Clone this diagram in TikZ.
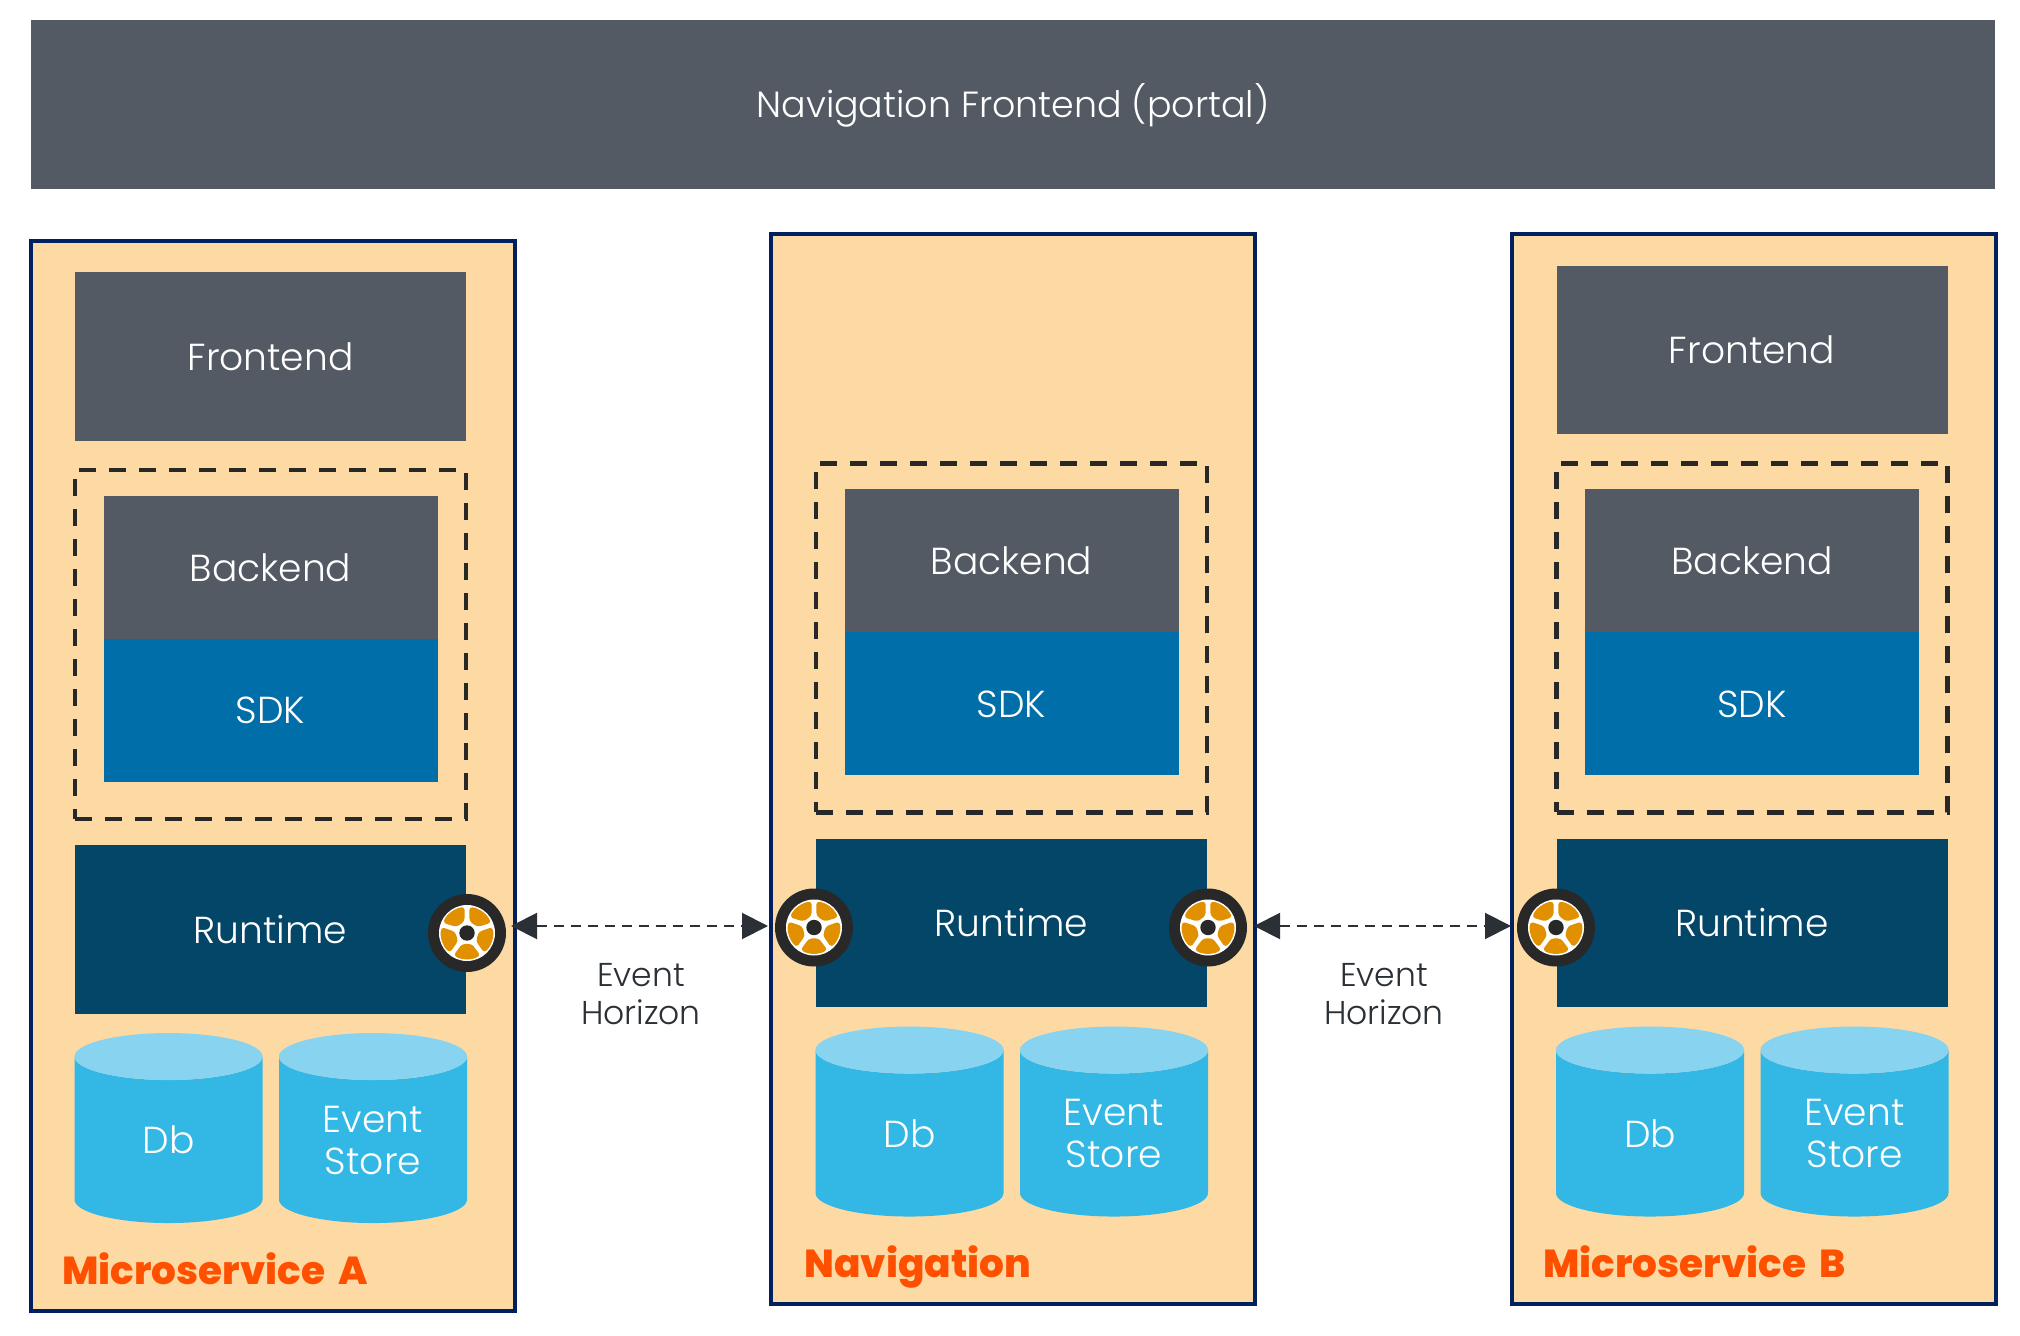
\documentclass[tikz,border=0pt]{standalone}
\usepackage{fontspec}
\setmainfont{Poppins Light}[BoldFont={Poppins ExtraBold},BoldFeatures={WordSpace=1.8}]
\usepackage{tikz}
\usetikzlibrary{positioning}
\usetikzlibrary{shapes.geometric,arrows.meta}
\definecolor{slategrey}{HTML}{535A64}
\definecolor{peach}{HTML}{FDD9A4}
\definecolor{navyline}{HTML}{00205F}
\definecolor{sdkblue}{HTML}{006EA9}
\definecolor{runblue}{HTML}{034667}
\definecolor{cylbody}{HTML}{33B8E6}
\definecolor{cyltop}{HTML}{87D3F0}
\definecolor{tyre}{HTML}{282828}
\definecolor{spoke}{HTML}{E19000}
\definecolor{titleorange}{HTML}{FF5000}
\definecolor{ink}{HTML}{2B3037}
\tikzset{
    service/.style={
           rectangle,
           draw=navyline, line width=2pt,
           fill=peach,
           minimum width=242pt,
           minimum height=535pt,
           inner sep=0pt,
           },
    block/.style={
           rectangle,
           text=white,
           minimum width=195.5pt,
           minimum height=84.25pt,
           inner sep=0pt,
           font=\fontsize{18.8}{21}\selectfont,
           },
    inner/.style={
           block,
           minimum width=167pt,
           minimum height=71.5pt,
           },
    group/.style={
           rectangle,
           draw=tyre, line width=2.2pt,
           dash pattern=on 8.5pt off 6.5pt,
           minimum width=195.5pt,
           minimum height=174.5pt,
           inner sep=0pt,
           },
    store/.style={
           cylinder,
           shape border rotate=90,
           aspect=0.47,
           cylinder uses custom fill,
           cylinder body fill=cylbody,
           cylinder end fill=cyltop,
           text width=50pt,
           text height=30pt,
           text depth=10pt,
           minimum width=94pt,
           minimum height=95pt,
           inner sep=0pt,
           },
    storetext/.style={
           text=white,
           align=center,
           inner sep=0pt,
           font=\fontsize{18.8}{21}\selectfont,
           },
    servicename/.style={
           anchor=base west,
           inner sep=0pt,
           text=titleorange,
           font=\fontsize{19.5}{23}\selectfont\bfseries,
           },
    horizon/.style={
           align=center,
           text=ink,
           font=\fontsize{16.5}{19}\selectfont,
           },
    wheel/.style={
           circle,
           fill=tyre,
           minimum size=39pt,
           inner sep=0pt,
           },
    eventlink/.style={
           <->,>={Triangle[length=13pt,width=13pt]},
           draw=ink, line width=1pt,
           dash pattern=on 5pt off 3.5pt,
           },
    wheelrim/.pic={
           \fill[white] (0,0) circle (14pt);
           \foreach \a in {270,342,54,126,198}{
             \fill[spoke,rounded corners=1.5pt] (\a-31:13pt) arc[start angle=\a-31,end angle=\a+31,radius=13pt]
               -- (\a+24:6pt) -- (\a-24:6pt) -- cycle;
           }
           \fill[tyre] (0,0) circle (3.85pt);
           },
}

\begin{document}
\begin{tikzpicture}[x=0.5pt,y=-0.5pt]
 \useasboundingbox (0,0) rectangle (2020,1336);

 % Top bar
 \node[block,fill=slategrey,minimum width=982pt,minimum height=84.5pt,font=\fontsize{18.2}{21}\selectfont] (PORTAL) at (1013,105) {Navigation Frontend (portal)};

 % Microservice A
 \node[service] (FRAMEA) at (273,776) {};
 \node[group] (DASHA) at (270.5,644.5) {};
 \node[block,fill=slategrey,above of=DASHA,node distance=144pt] (FRONTA) {Frontend};
 \node[inner,fill=slategrey,above of=DASHA,node distance=38.5pt] (BACKA) {Backend};
 \node[inner,fill=sdkblue,below of=BACKA,node distance=71.5pt] (SDKA) {SDK};
 \node[block,fill=runblue,below of=DASHA,node distance=142.5pt] (RUNA) {Runtime};
 \node[store,below of=RUNA,xshift=-51pt,node distance=105.25pt,label={[storetext]center:Db}] (DBA) {};
 \node[store,below of=RUNA,xshift=51.25pt,node distance=105.25pt,label={[storetext]center:{Event\\Store}}] (ESA) {};
 \node[servicename] (NAMEA) at (62,1284) {Microservice A};

 % Navigation
 \node[service] (FRAMEN) at (1013.25,769) {};
 \node[group] (DASHN) at (1011.5,638) {};
 \node[inner,fill=slategrey,above of=DASHN,node distance=38.5pt] (BACKN) {Backend};
 \node[inner,fill=sdkblue,below of=BACKN,node distance=71.5pt] (SDKN) {SDK};
 \node[block,fill=runblue,below of=DASHN,node distance=142.5pt] (RUNN) {Runtime};
 \node[store,below of=RUNN,xshift=-51pt,node distance=105.25pt,label={[storetext]center:Db}] (DBN) {};
 \node[store,below of=RUNN,xshift=51.25pt,node distance=105.25pt,label={[storetext]center:{Event\\Store}}] (ESN) {};
 \node[servicename] (NAMEN) at (804,1277.5) {Navigation};

 % Microservice B
 \node[service] (FRAMEB) at (1753.5,769) {};
 \node[group] (DASHB) at (1752,638) {};
 \node[block,fill=slategrey,above of=DASHB,node distance=144pt] (FRONTB) {Frontend};
 \node[inner,fill=slategrey,above of=DASHB,node distance=38.5pt] (BACKB) {Backend};
 \node[inner,fill=sdkblue,below of=BACKB,node distance=71.5pt] (SDKB) {SDK};
 \node[block,fill=runblue,below of=DASHB,node distance=142.5pt] (RUNB) {Runtime};
 \node[store,below of=RUNB,xshift=-51pt,node distance=105.25pt,label={[storetext]center:Db}] (DBB) {};
 \node[store,below of=RUNB,xshift=51.25pt,node distance=105.25pt,label={[storetext]center:{Event\\Store}}] (ESB) {};
 \node[servicename] (NAMEB) at (1543,1277.5) {Microservice B};

 % Wheels
 \node[wheel] (WHEELA) at (467,933) {};
 \node[wheel] (WHEELNL) at (814,927.5) {};
 \node[wheel] (WHEELNR) at (1208,927.5) {};
 \node[wheel] (WHEELB) at (1556,927.5) {};
 \pic at (WHEELA) {wheelrim};
 \pic at (WHEELNL) {wheelrim};
 \pic at (WHEELNR) {wheelrim};
 \pic at (WHEELB) {wheelrim};

 % Event horizon links
 \coordinate (LINKAL) at (511,926);
 \coordinate (LINKAR) at (768,926);
 \coordinate (LINKBL) at (1254,926);
 \coordinate (LINKBR) at (1511,926);
 \path
 (LINKAL) edge[eventlink] (LINKAR)
 (LINKBL) edge[eventlink] (LINKBR)
 ;
 \node[horizon] (HORIZONA) at (641,994) {Event\\Horizon};
 \node[horizon] (HORIZONB) at (1384,994) {Event\\Horizon};
\end{tikzpicture}
\end{document}
